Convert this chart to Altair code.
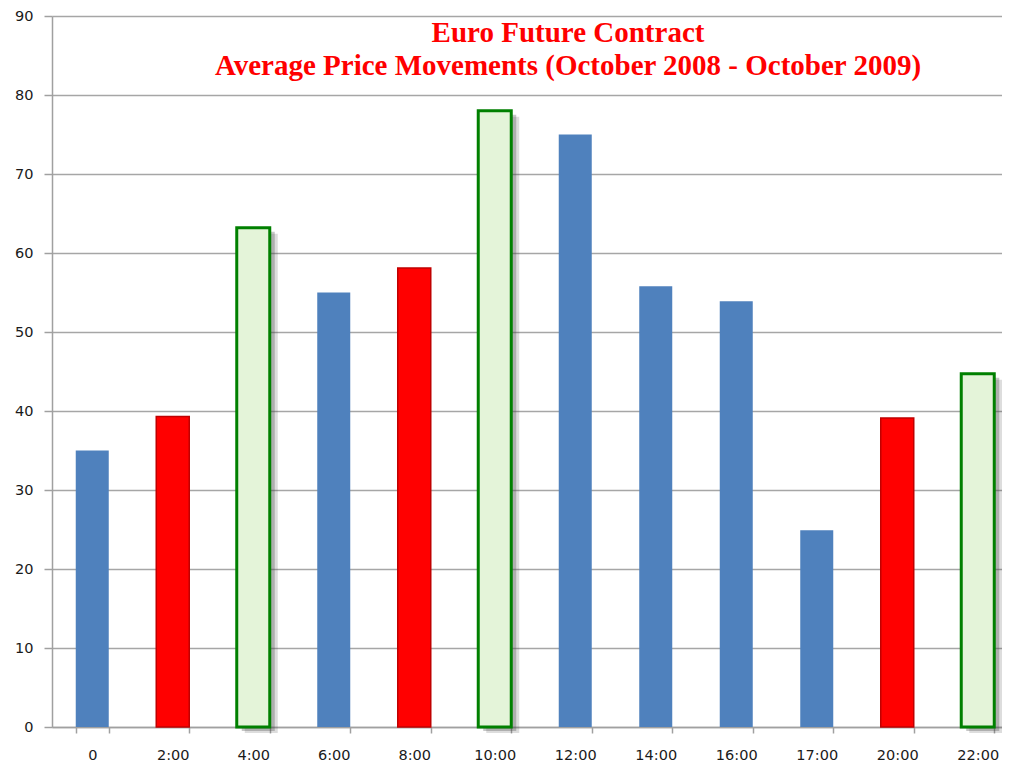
import altair as alt
import pandas as pd

hours = ["0", "2:00", "4:00", "6:00", "8:00", "10:00", "12:00", "14:00", "16:00", "17:00", "20:00", "22:00"]
values = [35, 39.3, 63.2, 55, 58.1, 78, 75, 55.8, 53.9, 24.9, 39.1, 44.7]
kinds = ["blue", "red", "green", "blue", "red", "green", "blue", "blue", "blue", "blue", "red", "green"]
title_lines = ["Euro Future Contract", "Average Price Movements (October 2008 - October 2009)"]

df = pd.DataFrame({"hour": hours, "value": values, "kind": kinds})

W, H = 950, 711
x_scale = alt.Scale(domain=hours, range=[0, 966], paddingInner=0.59, paddingOuter=0.295)
y_scale = alt.Scale(domain=[0, 90], nice=False)

AX = "#A0A0A0"
LBL_FONT = "DejaVu Sans"

x_enc = alt.X("hour:N", scale=x_scale, sort=hours, title=None,
              axis=alt.Axis(labelAngle=0, tickBand="extent", grid=False, tickSize=6,
                            labelPadding=15, domainColor=AX, tickColor=AX,
                            domainWidth=1.5, tickWidth=1.5, labelFont=LBL_FONT,
                            labelFontSize=14.5, labelColor="#1a1a1a"))
y_enc = alt.Y("value:Q", scale=y_scale, title=None,
              axis=alt.Axis(values=list(range(0, 91, 10)), tickSize=8, labelPadding=11,
                            grid=True, gridColor="#A6A6A6", gridWidth=1.5, domainColor=AX,
                            tickColor=AX, domainWidth=1.5, tickWidth=1.5,
                            labelFont=LBL_FONT, labelFontSize=14.5, labelColor="#1a1a1a"))

base = alt.Chart(df)
green = base.transform_filter(alt.datum.kind == "green")
red = base.transform_filter(alt.datum.kind == "red")
blue = base.transform_filter(alt.datum.kind == "blue")

shadow1 = green.mark_bar(color="#444444", opacity=0.18, xOffset=8, yOffset=6).encode(x=x_enc, y=y_enc)
shadow2 = green.mark_bar(color="#444444", opacity=0.3, xOffset=5, yOffset=4).encode(x=x_enc, y=y_enc)

blue_bars = blue.mark_bar(color="#4F81BD").encode(x=x_enc, y=y_enc)
red_bars = red.mark_bar(fill="#FF0000", stroke="#C00000", strokeWidth=1.5).encode(x=x_enc, y=y_enc)
green_bars = green.mark_bar(fill="#E4F4D9", stroke="#008000", strokeWidth=3).encode(x=x_enc, y=y_enc)

tdf = pd.DataFrame({"t": title_lines, "i": [0, 1]})
t1 = alt.Chart(tdf).transform_filter(alt.datum.i == 0).mark_text(
    font="Liberation Serif", fontWeight="bold", fontSize=29, color="#FF0000",
    align="center", baseline="middle"
).encode(text="t:N", x=alt.value(516), y=alt.value(17))
t2 = alt.Chart(tdf).transform_filter(alt.datum.i == 1).mark_text(
    font="Liberation Serif", fontWeight="bold", fontSize=29, color="#FF0000",
    align="center", baseline="middle"
).encode(text="t:N", x=alt.value(516), y=alt.value(50))

chart = alt.layer(shadow1, shadow2, blue_bars, red_bars, green_bars, t1, t2).properties(
    width=W, height=H,
    autosize=alt.AutoSizeParams(type="none"),
    padding={"left": 44, "top": 8, "right": 0, "bottom": 35},
).configure_view(stroke=None)

chart.save("out.html", embed_options={"renderer": "svg", "actions": False})
